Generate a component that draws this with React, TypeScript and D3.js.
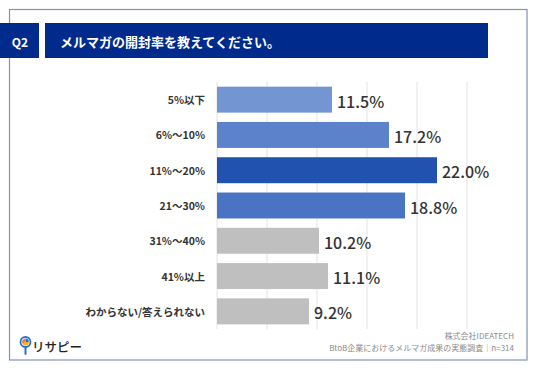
import React from "react";
import * as d3 from "d3";

const categories = [
  "5%以下",
  "6%～10%",
  "11%～20%",
  "21～30%",
  "31%～40%",
  "41%以上",
  "わからない/答えられない",
];
const values = [11.5, 17.2, 22.0, 18.8, 10.2, 11.1, 9.2];
const barColors = ["#7396d2", "#5b82cb", "#2152b0", "#4a73c4", "#bfbfbf", "#bfbfbf", "#bfbfbf"];
const gridTicks = [0, 5, 10, 15, 20, 25];

const FONT = "'Noto Sans CJK JP', 'Noto Sans', sans-serif";
const W = 536;
const H = 371;

const App = () => {
  const x = d3.scaleLinear().domain([0, 25]).range([217, 467]);
  const y = d3
    .scaleBand<string>()
    .domain(categories)
    .range([82, 329])
    .paddingInner(0.264)
    .paddingOuter(0.132);

  return (
    <svg
      width={W}
      height={H}
      style={{ position: "absolute", left: 0, top: 0, background: "#fff" }}
      fontFamily={FONT}
    >
      {/* frame */}
      <rect x={9.5} y={9.5} width={517.5} height={350.5} fill="none" stroke="#8393b6" strokeWidth={1.2} />

      {/* header */}
      <rect x={0} y={23} width={39} height={35} fill="#002b8c" />
      <text x={20} y={41} fill="#fff" fontSize={12} fontWeight={700} textAnchor="middle" dominantBaseline="central">
        Q2
      </text>
      <rect x={45} y={23} width={443} height={35} fill="#002b8c" />
      <text x={60} y={41} fill="#fff" fontSize={13} fontWeight={700} dominantBaseline="central">
        メルマガの開封率を教えてください。
      </text>

      {/* grid */}
      {gridTicks.map((t) => (
        <line key={t} x1={x(t)} x2={x(t)} y1={82} y2={329} stroke="#e3e3e3" strokeWidth={1} />
      ))}

      {/* bars */}
      {categories.map((c, i) => {
        const yy = y(c)!;
        const bw = y.bandwidth();
        return (
          <g key={c}>
            <rect x={x(0)} y={yy} width={x(values[i]) - x(0)} height={bw} fill={barColors[i]} />
            <text
              x={205}
              y={yy + bw / 2}
              fontSize={10.5}
              fontWeight={700}
              fill="#333"
              textAnchor="end"
              dominantBaseline="central"
            >
              {c}
            </text>
            <text
              x={x(values[i]) + 5}
              y={yy + bw / 2 + 1}
              fontSize={16}
              fontWeight={500}
              fill="#333"
              dominantBaseline="central"
            >
              {values[i].toFixed(1)}%
            </text>
          </g>
        );
      })}

      {/* logo */}
      <g>
        <line x1={25.5} y1={346} x2={25.5} y2={354} stroke="#2a6fd6" strokeWidth={2} strokeLinecap="round" />
        <circle cx={25.5} cy={342} r={5} fill="#fff" stroke="#2a6fd6" strokeWidth={1.8} />
        <path d="M25.5,342 L25.5,338.6 A3.4,3.4 0 0 1 28.9,342 Z" fill="#2a6fd6" />
        <path d="M25.5,342 L28.9,342 A3.4,3.4 0 0 1 22.4,343.4 Z" fill="#f4b400" />
        <path d="M25.5,342 L22.4,343.4 A3.4,3.4 0 0 1 25.5,338.6 Z" fill="#ee7a30" />
        <text x={32} y={346} fontSize={12.5} fontWeight={500} fill="#222" dominantBaseline="central">
          リサピー
        </text>
      </g>

      {/* source */}
      <text x={514} y={335.5} fontSize={8} fill="#8a8a8a" textAnchor="end" dominantBaseline="central">
        株式会社IDEATECH
      </text>
      <text x={514} y={347} fontSize={8} fill="#8a8a8a" textAnchor="end" dominantBaseline="central">
        BtoB企業におけるメルマガ成果の実態調査｜n=314
      </text>
    </svg>
  );
};

export default App;
